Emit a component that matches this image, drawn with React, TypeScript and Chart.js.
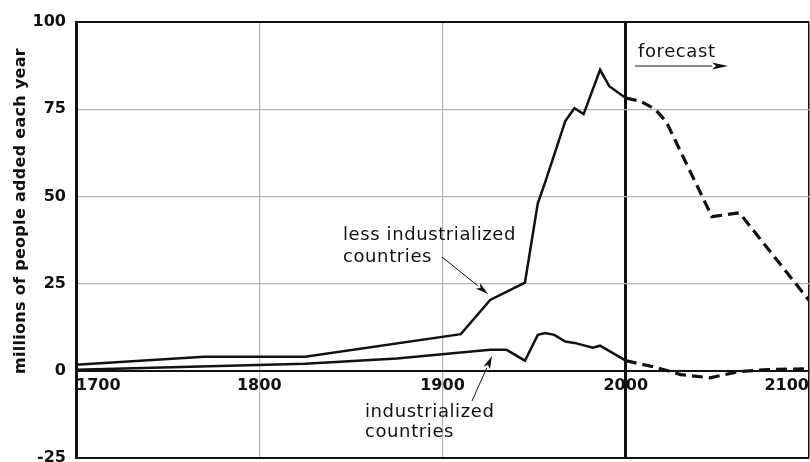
import React, { useEffect, useRef } from 'react';
import { Chart, registerables } from 'chart.js';

Chart.register(...registerables);

// ---------- data ----------
const lessYearsHist = [1700, 1770, 1825, 1910, 1926, 1945, 1952, 1956, 1967, 1972, 1977, 1986, 1991, 2000];
const lessValuesHist = [1.7, 4, 4, 10.5, 20.3, 25.3, 48, 54, 71.6, 75.3, 73.6, 86.3, 81.6, 78.2];
const lessYearsForecast = [2000, 2008, 2016, 2022, 2044, 2047, 2062, 2100];
const lessValuesForecast = [78.2, 77.3, 75, 71.5, 47.5, 44.2, 45.3, 20.2];

const indYearsHist = [1700, 1825, 1875, 1926, 1935, 1945, 1952, 1956, 1961, 1967, 1972, 1982, 1986, 2000];
const indValuesHist = [0.3, 2, 3.5, 6, 6, 2.9, 10.3, 10.8, 10.3, 8.4, 8, 6.6, 7.2, 2.9];
const indYearsForecast = [2000, 2017, 2030, 2046, 2061, 2075, 2100];
const indValuesForecast = [2.9, 0.9, -1.1, -2.0, -0.3, 0.3, 0.6];

const xTickYears = [1700, 1800, 1900, 2000, 2100];
const yTickValues = [-25, 0, 25, 50, 75, 100];

const yAxisTitle = 'millions of people added each year';
const lessLabel = ['less industrialized', 'countries'];
const indLabel = ['industrialized', 'countries'];
const forecastLabel = 'forecast';

// ---------- styles ----------
const INK = '#111111';
const GRID = '#b4b4b4';

function toPoints(xs: number[], ys: number[]) {
  return xs.map((x, i) => ({ x, y: ys[i] }));
}

function drawArrow(ctx: CanvasRenderingContext2D, x1: number, y1: number, x2: number, y2: number, headLen: number, headHalf: number) {
  const ang = Math.atan2(y2 - y1, x2 - x1);
  const bx = x2 - headLen * Math.cos(ang);
  const by = y2 - headLen * Math.sin(ang);
  ctx.beginPath();
  ctx.moveTo(x1, y1);
  ctx.lineTo(bx, by);
  ctx.stroke();
  const nx = -Math.sin(ang) * headHalf;
  const ny = Math.cos(ang) * headHalf;
  ctx.beginPath();
  ctx.moveTo(x2, y2);
  ctx.lineTo(bx + nx, by + ny);
  ctx.lineTo(bx + headLen * 0.25 * Math.cos(ang), by + headLen * 0.25 * Math.sin(ang));
  ctx.lineTo(bx - nx, by - ny);
  ctx.closePath();
  ctx.fill();
}

const annotationPlugin = {
  id: 'annotations',
  afterDraw(chart: any) {
    const ctx: CanvasRenderingContext2D = chart.ctx;
    ctx.save();
    ctx.fillStyle = INK;
    ctx.strokeStyle = INK;

    // y axis title
    ctx.save();
    ctx.translate(21, 211);
    ctx.rotate(-Math.PI / 2);
    ctx.font = 'bold 16px "DejaVu Sans"';
    (ctx as any).letterSpacing = '0.3px';
    ctx.textAlign = 'center';
    ctx.textBaseline = 'middle';
    ctx.fillText(yAxisTitle, 0, 0);
    ctx.restore();

    ctx.font = '18px "DejaVu Sans"';
    (ctx as any).letterSpacing = '0.6px';
    ctx.textAlign = 'left';
    ctx.textBaseline = 'alphabetic';

    ctx.fillText(lessLabel[0], 343, 240);
    ctx.fillText(lessLabel[1], 343, 262);
    ctx.fillText(indLabel[0], 365, 417);
    ctx.fillText(indLabel[1], 365, 437);
    ctx.fillText(forecastLabel, 638, 57);

    ctx.lineWidth = 1;
    drawArrow(ctx, 442, 257, 488, 294, 13, 3.5);
    drawArrow(ctx, 472, 401, 492, 356, 13, 3.5);
    drawArrow(ctx, 635, 66, 728, 66, 16, 3.5);
    ctx.restore();
  },
};

function zeroPadding(scale: any) {
  scale.paddingLeft = 0;
  scale.paddingRight = 0;
  scale.paddingTop = 0;
  scale.paddingBottom = 0;
}

export default function App() {
  const canvasRef = useRef<HTMLCanvasElement | null>(null);

  useEffect(() => {
    if (!canvasRef.current) return;
    const chart = new Chart(canvasRef.current, {
      type: 'line',
      data: {
        datasets: [
          {
            label: 'less industrialized',
            data: toPoints(lessYearsHist, lessValuesHist),
            borderColor: INK,
            borderWidth: 2.5,
            pointRadius: 0,
            tension: 0,
            fill: false,
          },
          {
            label: 'less industrialized forecast',
            data: toPoints(lessYearsForecast, lessValuesForecast),
            borderColor: INK,
            borderWidth: 3.2,
            borderDash: [11, 6],
            pointRadius: 0,
            tension: 0,
            fill: false,
          },
          {
            label: 'industrialized',
            data: toPoints(indYearsHist, indValuesHist),
            borderColor: INK,
            borderWidth: 2.5,
            pointRadius: 0,
            tension: 0,
            fill: false,
          },
          {
            label: 'industrialized forecast',
            data: toPoints(indYearsForecast, indValuesForecast),
            borderColor: INK,
            borderWidth: 3.2,
            borderDash: [11, 6],
            pointRadius: 0,
            tension: 0,
            fill: false,
          },
        ],
      },
      options: {
        animation: false,
        responsive: false,
        maintainAspectRatio: false,
        layout: { padding: { top: 22, right: 1, bottom: 4, left: 0 } },
        plugins: {
          legend: { display: false },
          tooltip: { enabled: false },
          title: { display: false },
        },
        scales: {
          x: {
            type: 'linear',
            min: 1700,
            max: 2100,
            position: { y: 0 } as any,
            afterFit(scale: any) {
              scale.height = 0;
              zeroPadding(scale);
            },
            afterBuildTicks(scale: any) {
              scale.ticks = xTickYears.map((v) => ({ value: v }));
            },
            ticks: {
              align: 'inner',
              padding: 5,
              color: INK,
              font: { family: 'DejaVu Sans', size: 16, weight: 'bold' },
              maxRotation: 0,
              autoSkip: false,
              callback: (v: any) => String(v),
            },
            grid: {
              drawTicks: false,
              color: (c: any) => {
                const v = c.tick && c.tick.value;
                if (v === 1700) return 'rgba(0,0,0,0)';
                if (v === 2000 || v === 2100) return INK;
                return GRID;
              },
              lineWidth: (c: any) => {
                const v = c.tick && c.tick.value;
                if (v === 2000) return 3;
                if (v === 2100) return 1.5;
                return 1.2;
              },
            },
            border: { display: true, color: INK, width: 2 },
          },
          y: {
            type: 'linear',
            min: -25,
            max: 100,
            afterFit(scale: any) {
              scale.width = 76;
              zeroPadding(scale);
            },
            afterBuildTicks(scale: any) {
              scale.ticks = yTickValues.map((v) => ({ value: v }));
            },
            ticks: {
              padding: 10,
              color: INK,
              font: { family: 'DejaVu Sans', size: 16, weight: 'bold' },
              callback: (v: any) => String(v),
            },
            grid: {
              drawTicks: false,
              color: (c: any) => {
                const v = c.tick && c.tick.value;
                if (v === -25 || v === 0 || v === 100) return INK;
                return GRID;
              },
              lineWidth: (c: any) => {
                const v = c.tick && c.tick.value;
                if (v === -25 || v === 100 || v === 0) return 2;
                return 1.2;
              },
            },
            border: { display: true, color: INK, width: 3 },
          },
        },
      },
      plugins: [annotationPlugin],
    } as any);
    return () => chart.destroy();
  }, []);

  return (
    <div style={{ position: 'fixed', left: 0, top: 0, width: 810, height: 462, background: '#ffffff' }}>
      <canvas ref={canvasRef} width={810} height={462} style={{ display: 'block' }} />
    </div>
  );
}
